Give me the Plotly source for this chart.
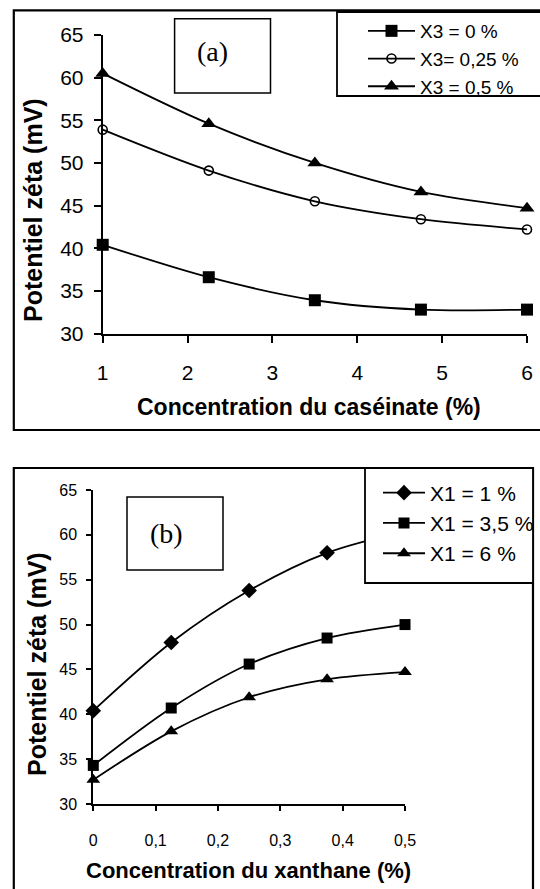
import plotly.graph_objects as go

W, H = 540, 889

# ---------------- data ----------------
casein_conc = [1, 2.25, 3.5, 4.75, 6]
zeta_x3_0 = [40.4, 36.6, 33.9, 32.8, 32.8]
zeta_x3_025 = [53.9, 49.1, 45.5, 43.4, 42.2]
zeta_x3_05 = [60.5, 54.6, 50.0, 46.6, 44.7]

xanthan_conc = [0, 0.125, 0.25, 0.375, 0.5]
zeta_x1_1 = [40.4, 48.0, 53.8, 58.0, 60.4]
zeta_x1_35 = [34.3, 40.7, 45.6, 48.5, 50.0]
zeta_x1_6 = [32.7, 38.1, 41.9, 43.9, 44.7]

top_xticks = [1, 2, 3, 4, 5, 6]
top_yticks = [30, 35, 40, 45, 50, 55, 60, 65]
bot_xticks = [0, 0.1, 0.2, 0.3, 0.4, 0.5]
bot_xticklabels = ["0", "0,1", "0,2", "0,3", "0,4", "0,5"]
bot_yticks = [30, 35, 40, 45, 50, 55, 60, 65]

top_names = ["X3 = 0 %", "X3= 0,25 %", "X3 = 0,5 %"]
bot_names = ["X1 = 1 %", "X1 = 3,5 %", "X1 = 6 %"]


def px(x):
    return x / W


def py(y):
    return 1 - y / H


SANS = "Liberation Sans, Arial, sans-serif"
SERIF = "Liberation Serif, Times New Roman, serif"

fig = go.Figure()

line = dict(color="black", width=1.8, shape="spline", smoothing=0.9)

# top chart traces
fig.add_trace(go.Scatter(x=casein_conc, y=zeta_x3_0, name=top_names[0], mode="lines+markers",
                         line=line, marker=dict(symbol="square", size=12, color="black"),
                         xaxis="x", yaxis="y", legend="legend", cliponaxis=False))
fig.add_trace(go.Scatter(x=casein_conc, y=zeta_x3_025, name=top_names[1], mode="lines+markers",
                         line=line, marker=dict(symbol="circle-open", size=9, color="black",
                                                line=dict(width=1.6, color="black")),
                         xaxis="x", yaxis="y", legend="legend", cliponaxis=False))
fig.add_trace(go.Scatter(x=casein_conc, y=zeta_x3_05, name=top_names[2], mode="lines+markers",
                         line=line, marker=dict(symbol="triangle-up", size=13, color="black"),
                         xaxis="x", yaxis="y", legend="legend", cliponaxis=False))

# bottom chart traces
fig.add_trace(go.Scatter(x=xanthan_conc, y=zeta_x1_1, name=bot_names[0], mode="lines+markers",
                         line=line, marker=dict(symbol="diamond", size=12, color="black"),
                         xaxis="x2", yaxis="y2", legend="legend2", cliponaxis=False))
fig.add_trace(go.Scatter(x=xanthan_conc, y=zeta_x1_35, name=bot_names[1], mode="lines+markers",
                         line=line, marker=dict(symbol="square", size=11, color="black"),
                         xaxis="x2", yaxis="y2", legend="legend2", cliponaxis=False))
fig.add_trace(go.Scatter(x=xanthan_conc, y=zeta_x1_6, name=bot_names[2], mode="lines+markers",
                         line=line, marker=dict(symbol="triangle-up", size=12, color="black"),
                         xaxis="x2", yaxis="y2", legend="legend2", cliponaxis=False))

axis_common = dict(showline=True, linecolor="black", linewidth=2, showgrid=False, zeroline=False,
                   ticks="outside", tickcolor="black", tickwidth=2, mirror=False,
                   automargin=False)

fig.update_layout(
    width=W, height=H, autosize=False,
    margin=dict(l=0, r=0, t=0, b=0, pad=0, autoexpand=False),
    paper_bgcolor="white", plot_bgcolor="white",
    font=dict(family=SANS, color="black"),
    xaxis=dict(domain=[px(102.7), px(527)], range=[1, 6], tickvals=top_xticks,
               ticklen=7, ticklabelstandoff=12, tickfont=dict(size=21, family=SANS),
               anchor="y", **axis_common),
    yaxis=dict(domain=[py(333.5), py(35)], range=[30, 65], tickvals=top_yticks,
               ticklen=7, ticklabelstandoff=6, tickfont=dict(size=21, family=SANS),
               anchor="x", **axis_common),
    xaxis2=dict(domain=[px(93.3), px(405)], range=[0, 0.5], tickvals=bot_xticks,
                ticktext=bot_xticklabels,
                ticklen=5, ticklabelstandoff=16, tickfont=dict(size=16, family=SANS),
                anchor="y2", **axis_common),
    yaxis2=dict(domain=[py(804), py(490)], range=[30, 65], tickvals=bot_yticks,
                ticklen=5, ticklabelstandoff=6, tickfont=dict(size=16, family=SANS),
                anchor="x2", **axis_common),
    legend=dict(x=px(363), y=py(12), xanchor="left", yanchor="top",
                bgcolor="rgba(0,0,0,0)", borderwidth=0,
                font=dict(size=19, family=SANS), itemwidth=47, tracegroupgap=0),
    legend2=dict(x=px(378), y=py(472.5), xanchor="left", yanchor="top",
                 bgcolor="rgba(0,0,0,0)", borderwidth=0,
                 font=dict(size=21, family=SANS), itemwidth=42, tracegroupgap=0),
)

shapes = [
    # outer frames
    dict(type="rect", xref="paper", yref="paper", x0=px(13.8), x1=px(560), y0=py(430), y1=py(10.3),
         line=dict(color="black", width=2.2), layer="below"),
    dict(type="rect", xref="paper", yref="paper", x0=px(13.8), x1=px(533), y0=py(905), y1=py(468),
         line=dict(color="black", width=2.2), layer="below"),
    # label boxes
    dict(type="rect", xref="paper", yref="paper", x0=px(174.6), x1=px(270.5), y0=py(93), y1=py(18.8),
         line=dict(color="black", width=1.5), layer="below"),
    dict(type="rect", xref="paper", yref="paper", x0=px(127), x1=px(223), y0=py(570), y1=py(497),
         line=dict(color="black", width=1.5), layer="below"),
    # legend boxes (opaque, above the curves)
    dict(type="rect", xref="paper", yref="paper", x0=px(337), x1=px(560), y0=py(96), y1=py(12),
         line=dict(color="black", width=1.8), fillcolor="white", layer="above"),
    dict(type="rect", xref="paper", yref="paper", x0=px(365), x1=px(533), y0=py(583), y1=py(468),
         line=dict(color="black", width=1.8), fillcolor="white", layer="above"),
]
fig.update_layout(shapes=shapes)

ann = [
    dict(text="(a)", x=px(212), y=py(51), font=dict(family=SERIF, size=28)),
    dict(text="(b)", x=px(166), y=py(533), font=dict(family=SERIF, size=28)),
    dict(text="<b>Potentiel zéta (mV)</b>", x=px(33), y=py(210), textangle=-90,
         font=dict(family=SANS, size=25)),
    dict(text="<b>Concentration du caséinate (%)</b>", x=px(309), y=py(407),
         font=dict(family=SANS, size=23)),
    dict(text="<b>Potentiel zéta (mV)</b>", x=px(37), y=py(664), textangle=-90,
         font=dict(family=SANS, size=25)),
    dict(text="<b>Concentration du xanthane (%)</b>", x=px(248), y=py(870),
         font=dict(family=SANS, size=22)),
]
for a in ann:
    a.update(xref="paper", yref="paper", showarrow=False, xanchor="center", yanchor="middle")
fig.update_layout(annotations=ann)

fig.write_html("out.html")
